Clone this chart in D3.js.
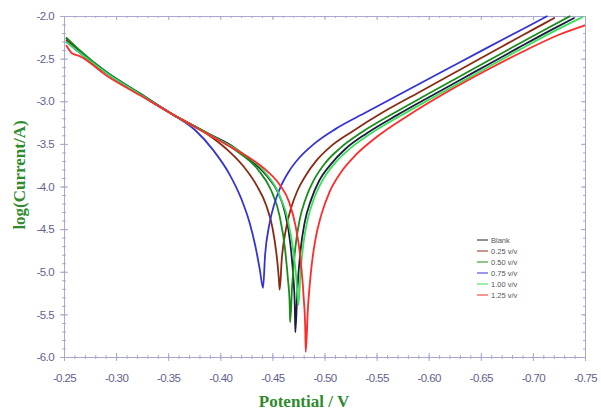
<!DOCTYPE html>
<html lang="en">
<head>
    <meta charset="UTF-8">
    <title>Tafel plot</title>
    <script src="https://d3js.org/d3.v7.min.js"></script>
    <style>
        body { margin: 0; padding: 0; background: #fff; }
        svg { display: block; }
        .tick text { font-family: "Liberation Sans Narrow", Arial, sans-serif; font-size: 11.5px; letter-spacing: -0.6px; fill: #62628f; }
        .axis path, .axis line { stroke: #a8a8d0; }
        .title { font-family: "Liberation Serif", "Times New Roman", serif; font-weight: bold; font-size: 17px; fill: #2e8b2e; }
        .legend text { font-family: Arial, sans-serif; font-size: 7.5px; fill: #555; }
        .curve { fill: none; stroke-width: 1.8px; }
    </style>
</head>
<body>
<svg width="601" height="412"></svg>
<script>
    // potential (V) vs log(current/A)
    var blank = [[-0.252,-2.26],[-0.265,-2.41],[-0.291,-2.66],[-0.323,-2.91],[-0.355,-3.16],[-0.387,-3.37],[-0.412,-3.53],[-0.430,-3.70],[-0.445,-3.88],[-0.455,-4.06],[-0.462,-4.30],[-0.467,-4.65],[-0.470,-5.05],[-0.4715,-5.40],[-0.472,-5.71],
                 [-0.474,-5.20],[-0.477,-4.75],[-0.481,-4.42],[-0.487,-4.16],[-0.495,-3.93],[-0.506,-3.74],[-0.520,-3.56],[-0.540,-3.38],[-0.570,-3.16],[-0.605,-2.92],[-0.645,-2.65],[-0.685,-2.38],[-0.715,-2.18],[-0.740,-2.02]];
    var c025 = [[-0.252,-2.28],[-0.265,-2.43],[-0.291,-2.67],[-0.323,-2.92],[-0.355,-3.16],[-0.387,-3.38],[-0.406,-3.56],[-0.422,-3.76],[-0.435,-3.99],[-0.444,-4.22],[-0.450,-4.48],[-0.454,-4.80],[-0.456,-5.05],[-0.457,-5.21],
                [-0.459,-4.85],[-0.463,-4.50],[-0.468,-4.25],[-0.474,-4.05],[-0.482,-3.87],[-0.492,-3.70],[-0.506,-3.53],[-0.526,-3.36],[-0.556,-3.13],[-0.590,-2.90],[-0.630,-2.63],[-0.670,-2.36],[-0.700,-2.16],[-0.721,-2.02]];
    var c050 = [[-0.252,-2.25],[-0.265,-2.40],[-0.291,-2.66],[-0.323,-2.91],[-0.355,-3.16],[-0.387,-3.37],[-0.414,-3.57],[-0.436,-3.80],[-0.449,-4.05],[-0.457,-4.35],[-0.462,-4.72],[-0.465,-5.10],[-0.4665,-5.35],[-0.467,-5.59],
                [-0.469,-5.15],[-0.472,-4.72],[-0.476,-4.40],[-0.482,-4.14],[-0.490,-3.92],[-0.501,-3.72],[-0.515,-3.55],[-0.535,-3.37],[-0.565,-3.15],[-0.600,-2.91],[-0.640,-2.64],[-0.680,-2.37],[-0.710,-2.17],[-0.736,-2.00]];
    var c075 = [[-0.252,-2.30],[-0.265,-2.43],[-0.291,-2.67],[-0.323,-2.92],[-0.355,-3.16],[-0.376,-3.34],[-0.393,-3.57],[-0.409,-3.86],[-0.420,-4.14],[-0.428,-4.42],[-0.434,-4.72],[-0.438,-4.98],[-0.441,-5.19],
                [-0.443,-4.80],[-0.447,-4.45],[-0.452,-4.20],[-0.458,-4.00],[-0.466,-3.82],[-0.476,-3.66],[-0.490,-3.50],[-0.510,-3.33],[-0.540,-3.13],[-0.575,-2.90],[-0.615,-2.64],[-0.655,-2.38],[-0.690,-2.155],[-0.714,-2.00]];
    var c100 = [[-0.252,-2.30],[-0.265,-2.43],[-0.291,-2.67],[-0.323,-2.92],[-0.355,-3.16],[-0.387,-3.38],[-0.420,-3.60],[-0.442,-3.82],[-0.456,-4.08],[-0.465,-4.40],[-0.470,-4.75],[-0.473,-5.08],[-0.475,-5.39],
                [-0.477,-5.00],[-0.480,-4.65],[-0.484,-4.38],[-0.490,-4.14],[-0.498,-3.93],[-0.509,-3.74],[-0.523,-3.57],[-0.543,-3.39],[-0.573,-3.17],[-0.608,-2.93],[-0.648,-2.66],[-0.688,-2.39],[-0.720,-2.18],[-0.748,-2.01]];
    var c125 = [[-0.252,-2.34],[-0.258,-2.44],[-0.265,-2.47],[-0.291,-2.70],[-0.323,-2.93],[-0.355,-3.16],[-0.387,-3.38],[-0.412,-3.55],[-0.430,-3.68],[-0.445,-3.82],[-0.457,-3.98],[-0.466,-4.18],[-0.472,-4.45],[-0.477,-4.85],[-0.480,-5.30],[-0.4815,-5.65],[-0.482,-5.94],
                [-0.484,-5.45],[-0.487,-5.00],[-0.491,-4.64],[-0.497,-4.33],[-0.505,-4.06],[-0.516,-3.83],[-0.530,-3.63],[-0.550,-3.42],[-0.580,-3.17],[-0.615,-2.91],[-0.655,-2.64],[-0.695,-2.39],[-0.725,-2.22],[-0.750,-2.11]];

    var names = ["Blank", "0.25 v/v", "0.50 v/v", "0.75 v/v", "1.00 v/v", "1.25 v/v"];
    var colors = ["#1c1c40", "#8a2a12", "#1a8c1a", "#3434d4", "#38e058", "#ff2a2a"];
    var series = [blank, c025, c050, c075, c100, c125];

    var xTicks = [-0.25, -0.30, -0.35, -0.40, -0.45, -0.50, -0.55, -0.60, -0.65, -0.70, -0.75];
    var yTicks = [-2.0, -2.5, -3.0, -3.5, -4.0, -4.5, -5.0, -5.5, -6.0];

    var svg = d3.select("svg");
    var x = d3.scaleLinear().domain([-0.25, -0.75]).range([64, 585]);
    var y = d3.scaleLinear().domain([-6, -2]).range([357, 16]);

    var xMinor = d3.range(0, 51).map(function(i) { return -0.25 - i * 0.01; });
    var yMinor = d3.range(0, 41).map(function(i) { return -2 - i * 0.1; });

    function addAxis(axis, tr) {
        return svg.append("g").attr("class", "axis").attr("transform", tr).call(axis);
    }

    // bottom
    addAxis(d3.axisBottom(x).tickValues(xMinor).tickSize(2).tickFormat(""), "translate(0,357)");
    addAxis(d3.axisBottom(x).tickValues(xMinor).tickSize(-2).tickFormat(""), "translate(0,357)");
    addAxis(d3.axisBottom(x).tickValues(xTicks).tickSize(-4).tickFormat(""), "translate(0,357)");
    addAxis(d3.axisBottom(x).tickValues(xTicks).tickSize(4).tickPadding(13)
        .tickFormat(function(d) { return d.toFixed(2); }), "translate(0,357)");
    // top
    addAxis(d3.axisTop(x).tickValues(xMinor).tickSize(-2).tickFormat(""), "translate(0,16)");
    addAxis(d3.axisTop(x).tickValues(xTicks).tickSize(-4).tickFormat(""), "translate(0,16)");
    // left
    addAxis(d3.axisLeft(y).tickValues(yMinor).tickSize(2).tickFormat(""), "translate(64,0)");
    addAxis(d3.axisLeft(y).tickValues(yMinor).tickSize(-2).tickFormat(""), "translate(64,0)");
    addAxis(d3.axisLeft(y).tickValues(yTicks).tickSize(-4).tickFormat(""), "translate(64,0)");
    addAxis(d3.axisLeft(y).tickValues(yTicks).tickSize(4).tickPadding(6)
        .tickFormat(function(d) { return d.toFixed(1); }), "translate(64,0)");
    // right
    addAxis(d3.axisRight(y).tickValues(yMinor).tickSize(-2).tickFormat(""), "translate(585,0)");
    addAxis(d3.axisRight(y).tickValues(yTicks).tickSize(-4).tickFormat(""), "translate(585,0)");

    var line = d3.line()
        .x(function(d) { return x(d[0]); })
        .y(function(d) { return y(d[1]); })
        .curve(d3.curveMonotoneX);

    svg.selectAll(".curve")
        .data(series)
        .enter().append("path")
        .attr("class", "curve")
        .attr("stroke", function(d, i) { return colors[i]; })
        .attr("d", line);

    // legend
    var leg = svg.append("g").attr("class", "legend");
    names.forEach(function(n, i) {
        var yy = 240 + i * 11;
        leg.append("line").attr("x1", 477).attr("x2", 488).attr("y1", yy).attr("y2", yy)
            .attr("stroke", colors[i]).attr("stroke-width", 1);
        leg.append("text").attr("x", 491).attr("y", yy + 2.5).text(n);
    });

    svg.append("text").attr("class", "title")
        .attr("text-anchor", "middle")
        .attr("transform", "translate(25,175) rotate(-90)")
        .text("log(Current/A)");

    svg.append("text").attr("class", "title")
        .attr("text-anchor", "middle")
        .attr("x", 304).attr("y", 407)
        .text("Potential / V");
</script>
</body>
</html>
